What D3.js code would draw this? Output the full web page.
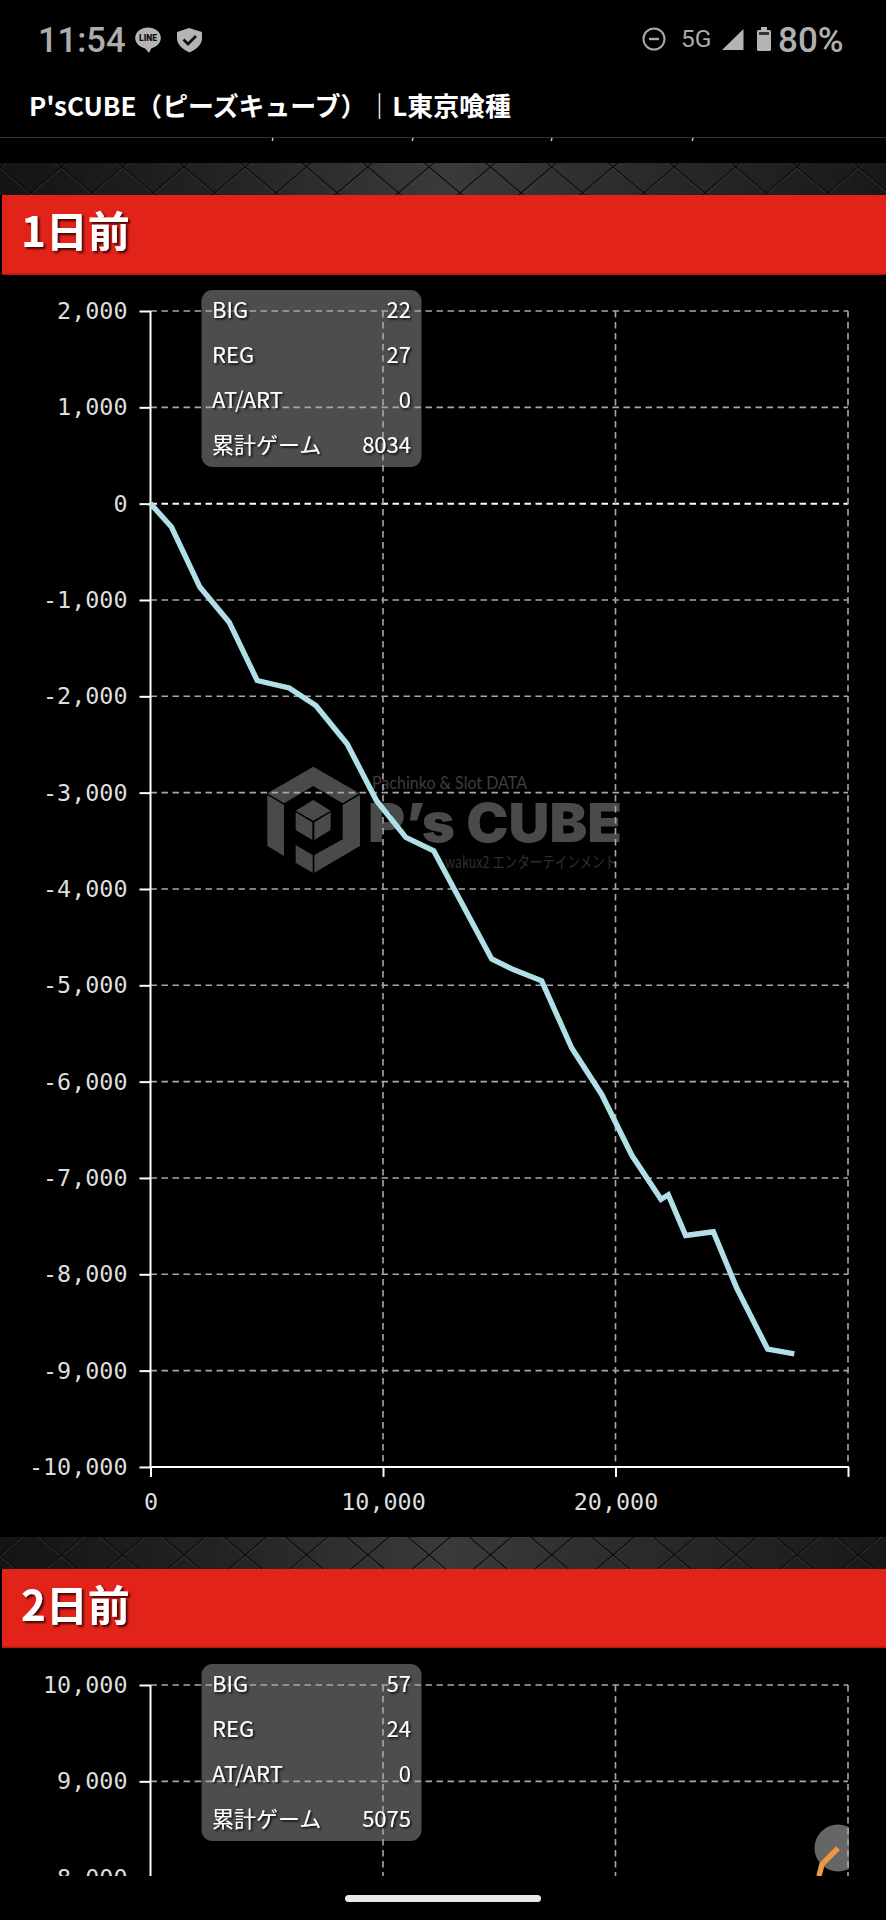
<!DOCTYPE html>
<html><head><meta charset="utf-8">
<style>
html,body{margin:0;padding:0;background:#000;}
svg{display:block;}
.jp{font-family:"Noto Sans CJK JP","Noto Sans",sans-serif;}
.rb{font-family:Roboto,sans-serif;}
</style>
<script src="https://cdn.jsdelivr.net/npm/d3@7"></script>
</head><body>
<div id="chart"></div>
<script>
// ---- data ----
const gamesDay1 = [0,903,2122,3384,4589,5965,7112,8460,9722,10984,12180,14675,15606,16824,18116,19406,20697,21957,22272,23018,24208,25212,26545,27690];
const coinsDay1 = [0,-243,-866,-1230,-1836,-1913,-2096,-2495,-3084,-3465,-3604,-4727,-4837,-4953,-5651,-6133,-6762,-7222,-7175,-7597,-7558,-8143,-8777,-8826];
const gamesDay2 = [29570,28880,28750];
const coinsDay2 = [8306,8139,8015];
const xTicks = [0,10000,20000,30000];
const xLabelled = [0,10000,20000];
const yTicksDay1 = [2000,1000,0,-1000,-2000,-3000,-4000,-5000,-6000,-7000,-8000,-9000,-10000];
const yTicksDay2 = [10000,9000,8000];
const statLabels = ["BIG","REG","AT/ART","累計ゲーム"];
const statsDay1 = [22,27,0,8034];
const statsDay2 = [57,24,0,5075];
const sectionTitles = ["1日前","2日前"];
const headerText = "P'sCUBE（ピーズキューブ）｜L東京喰種";

const W=886,H=1920;
const svg=d3.select("#chart").append("svg").attr("width",W).attr("height",H).attr("viewBox",`0 0 ${W} ${H}`);
svg.append("rect").attr("width",W).attr("height",H).attr("fill","#000");
const defs=svg.append("defs");
const fmt=d3.formatLocale({decimal:".",thousands:",",grouping:[3],currency:["",""],minus:"-"}).format(",");

const sh=defs.append("filter").attr("id","ts").attr("x","-20%").attr("y","-20%").attr("width","150%").attr("height","150%");
sh.append("feDropShadow").attr("dx",1.5).attr("dy",1.5).attr("stdDeviation",0.8).attr("flood-color","#000").attr("flood-opacity",0.9);
const sh2=defs.append("filter").attr("id","ts2").attr("x","-20%").attr("y","-20%").attr("width","150%").attr("height","150%");
sh2.append("feDropShadow").attr("dx",2).attr("dy",2).attr("stdDeviation",1).attr("flood-color","#300").attr("flood-opacity",0.9);

const lg=defs.append("linearGradient").attr("id","bandg");
[[0,"#141414"],[0.25,"#232323"],[0.5,"#3a3a3a"],[0.7,"#2c2c2c"],[1,"#181818"]].forEach(s=>lg.append("stop").attr("offset",s[0]).attr("stop-color",s[1]));
function lattice(id,oy){
  const p=defs.append("pattern").attr("id",id).attr("patternUnits","userSpaceOnUse").attr("width",61.3).attr("height",52).attr("patternTransform",`translate(0,${oy})`);
  const d=[[0,0,61.3,52],[61.3,0,0,52]];
  d.forEach(l=>p.append("line").attr("x1",l[0]).attr("y1",l[1]+1.4).attr("x2",l[2]).attr("y2",l[3]+1.4).attr("stroke","#505050").attr("stroke-width",0.9).attr("stroke-opacity",.6));
  d.forEach(l=>p.append("line").attr("x1",l[0]).attr("y1",l[1]).attr("x2",l[2]).attr("y2",l[3]).attr("stroke","#0a0a0a").attr("stroke-width",1.2));
}
lattice("lat1",167);lattice("lat2",1555);

// ---- status bar + header ----
const sb=svg.append("g");
sb.append("text").attr("class","rb").attr("x",38).attr("y",52).attr("font-size",34.5).attr("font-weight",500).attr("fill","#adadad").text("11:54");
sb.append("ellipse").attr("cx",148).attr("cy",38).attr("rx",12.8).attr("ry",10.5).attr("fill","#b4b4b4");
sb.append("path").attr("d","M144 47 L149 53 L152 47Z").attr("fill","#b4b4b4");
sb.append("text").attr("x",148).attr("y",41).attr("text-anchor","middle").attr("font-family","Roboto").attr("font-weight",900).attr("font-size",8.5).attr("fill","#111").text("LINE");
sb.append("path").attr("d","M177 32 L189 28 L202 32 L202 40 Q200 48 189.5 52.5 Q179 48 177 40Z").attr("fill","#b4b4b4");
sb.append("path").attr("d","M183.5 39.5 L188 44 L196 36").attr("fill","none").attr("stroke","#111").attr("stroke-width",2.8);
sb.append("circle").attr("cx",654).attr("cy",39).attr("r",10.5).attr("fill","none").attr("stroke","#aaa").attr("stroke-width",2);
sb.append("line").attr("x1",649).attr("x2",659).attr("y1",39).attr("y2",39).attr("stroke","#aaa").attr("stroke-width",2.4);
sb.append("text").attr("class","rb").attr("x",681).attr("y",47).attr("font-size",24.5).attr("fill","#aaa").text("5G");
sb.append("path").attr("d","M722 50 L743.5 50 L743.5 29Z").attr("fill","#b4b4b4");
sb.append("rect").attr("x",757).attr("y",30).attr("width",14).attr("height",21).attr("rx",1.5).attr("fill","#b4b4b4");
sb.append("rect").attr("x",761).attr("y",27).attr("width",6).attr("height",4).attr("fill","#b4b4b4");
sb.append("rect").attr("x",759).attr("y",32).attr("width",10).attr("height",3).attr("fill","#333");
sb.append("text").attr("class","rb").attr("x",778).attr("y",52).attr("font-size",35).attr("font-weight",500).attr("fill","#b0b0b0").text("80%");

svg.append("text").attr("class","jp").attr("x",29).attr("y",116).attr("font-size",25.9).attr("font-weight",700).attr("fill","#fff").text(headerText);
svg.append("line").attr("x1",0).attr("x2",W).attr("y1",137.5).attr("y2",137.5).attr("stroke","#333").attr("stroke-width",1.2);
[273,413,552,693].forEach(x=>svg.append("line").attr("x1",x).attr("x2",x-0.8).attr("y1",138).attr("y2",141).attr("stroke","#ccc").attr("stroke-width",1.4));

// ---- section bands ----
function section(bandTop,redTop,redH,title){
  svg.append("rect").attr("x",0).attr("y",bandTop).attr("width",W).attr("height",redTop-bandTop).attr("fill","url(#bandg)");
  svg.append("rect").attr("x",0).attr("y",bandTop).attr("width",W).attr("height",redTop-bandTop).attr("fill",bandTop<1000?"url(#lat1)":"url(#lat2)");
  svg.append("rect").attr("x",2).attr("y",redTop).attr("width",W-2).attr("height",redH).attr("fill","#e2231a");
  svg.append("rect").attr("x",2).attr("y",redTop+redH-1.5).attr("width",W-2).attr("height",1.5).attr("fill","#b01810");
  svg.append("text").attr("class","jp").attr("x",21).attr("y",redTop+52).attr("font-size",42).attr("font-weight",700).attr("fill","#fff").attr("filter","url(#ts2)").text(title);
}
section(163,195,80,sectionTitles[0]);
section(1537,1569,79,sectionTitles[1]);

// ---- scales ----
const pxPerThousandY=96.33;
const x=d3.scaleLinear().domain([0,30000]).range([150.5,848]);
const y1=d3.scaleLinear().domain([2000,-10000]).range([311,311+12*pxPerThousandY]);
const y2=d3.scaleLinear().domain([10000,-2000]).range([1685,1685+12*pxPerThousandY]);

// ---- watermark (behind grid) ----
const wm=svg.append("g");
const logo=wm.append("g").attr("transform","translate(260,760) scale(0.3333)").attr("fill","#4a4a4a");
[
 "22,100 160,20 298,100 248,130 160,78 72,130",
 "22,105 72,135 72,288 22,258",
 "300,105 300,258 163,338 163,285 248,238 248,135",
 "107,255 158,285 158,338 107,308",
 "107,152 160,120 212,152 160,182",
 "107,157 157,187 157,240 107,210",
 "163,187 212,157 212,210 163,240"
].forEach(p=>logo.append("polygon").attr("points",p));
wm.append("text").attr("x",372).attr("y",789).attr("font-family","Lato,sans-serif").attr("font-size",18).attr("textLength",155).attr("lengthAdjust","spacingAndGlyphs").attr("fill","#3e3e3e").text("Pachinko & Slot DATA");
wm.append("text").attr("x",368).attr("y",842).attr("font-family","Inter,Roboto,sans-serif").attr("font-weight",900).attr("font-size",54).attr("textLength",254).attr("lengthAdjust","spacingAndGlyphs").attr("fill","#4a4a4a").text("P’s CUBE");
wm.append("text").attr("class","jp").attr("x",445).attr("y",868).attr("font-size",16).attr("textLength",172).attr("lengthAdjust","spacingAndGlyphs").attr("fill","#303030").text("wakux2 エンターテインメント");

// ---- chart builder ----
function chart(yScale,yTicks,stats,topY,gridBottom,panelTop,id,gx,gy,color){
  const clip=defs.append("clipPath").attr("id",id);
  clip.append("rect").attr("x",0).attr("y",topY-40).attr("width",W).attr("height",gridBottom-topY+(gridBottom>1600?40:90));
  const g=svg.append("g").attr("clip-path",`url(#${id})`);
  g.append("rect").attr("x",201.5).attr("y",panelTop).attr("width",220).attr("height",177).attr("rx",11).attr("fill","#4d4d4d");
  g.selectAll(".hg").data(yTicks).join("line").attr("class","hg")
    .attr("x1",x(0)).attr("x2",x(30000)).attr("y1",d=>yScale(d)).attr("y2",d=>yScale(d))
    .attr("stroke",d=>d===0?"#fff":"#a8a8a8").attr("stroke-width",d=>d===0?2:1.6).attr("stroke-dasharray","6.5 4.5");
  g.selectAll(".vg").data(xTicks.slice(1)).join("line").attr("class","vg")
    .attr("x1",d=>x(d)).attr("x2",d=>x(d)).attr("y1",topY).attr("y2",gridBottom)
    .attr("stroke","#a8a8a8").attr("stroke-width",1.6).attr("stroke-dasharray","6.5 4.5");
  const ay=g.append("g").attr("transform",`translate(${x(0)},0)`).call(d3.axisLeft(yScale).tickValues(yTicks).tickSize(11).tickPadding(12).tickFormat(fmt));
  ay.select(".domain").remove();
  ay.selectAll("line").attr("stroke","#fff").attr("stroke-width",2);
  ay.selectAll("text").attr("font-family","'DejaVu Sans Mono',monospace").attr("font-size",23.4).attr("fill","#dedede");
  g.append("line").attr("x1",x(0)).attr("x2",x(0)).attr("y1",topY).attr("y2",gridBottom).attr("stroke","#fff").attr("stroke-width",2);
  const pts=gx.map((v,i)=>[v,gy[i]]);
  const ln=d3.line().x(d=>x(d[0])).y(d=>yScale(d[1]));
  g.append("path").attr("d",ln(pts)).attr("fill","none").attr("stroke",color).attr("stroke-width",5.4).attr("stroke-linejoin","miter");
  statLabels.forEach((l,i)=>{
    const by=panelTop+28+i*45;
    g.append("text").attr("class","jp").attr("x",212).attr("y",by).attr("font-size",22).attr("fill","#fff").attr("filter","url(#ts)").text(l);
    g.append("text").attr("class","jp").attr("x",411).attr("y",by).attr("text-anchor","end").attr("font-size",22).attr("fill","#fff").attr("filter","url(#ts)").text(stats[i]);
  });
  return g;
}

chart(y1,yTicksDay1,statsDay1,311,y1(-10000),290,"c1",gamesDay1,coinsDay1,"#b0e0e6");
const ax=svg.append("g").attr("transform",`translate(0,${y1(-10000)})`).call(d3.axisBottom(x).tickValues(xTicks).tickSize(10).tickPadding(16).tickFormat(d=>xLabelled.includes(d)?fmt(d):""));
ax.select(".domain").remove();
ax.selectAll("line").attr("stroke","#fff").attr("stroke-width",2);
ax.selectAll("text").attr("font-family","'DejaVu Sans Mono',monospace").attr("font-size",23.4).attr("fill","#dedede");
svg.append("line").attr("x1",x(0)-1).attr("x2",x(30000)+1).attr("y1",y1(-10000)).attr("y2",y1(-10000)).attr("stroke","#fff").attr("stroke-width",2);

const cp=defs.append("clipPath").attr("id","fab");
cp.append("rect").attr("x",0).attr("y",0).attr("width",849).attr("height",1876);
svg.append("circle").attr("cx",838).attr("cy",1848).attr("r",23.5).attr("fill","#666").attr("clip-path","url(#fab)");
chart(y2,yTicksDay2,statsDay2,1685,1876,1664,"c2",gamesDay2,coinsDay2,"#ec9a3c");

svg.append("rect").attr("x",345).attr("y",1895).attr("width",196).attr("height",7).attr("rx",3.5).attr("fill","#e8e8e8");
</script>
</body></html>
